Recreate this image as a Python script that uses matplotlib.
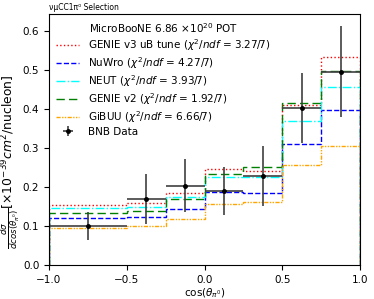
import numpy as np
import matplotlib
matplotlib.use("Agg")
import matplotlib.pyplot as plt

# bin edges in cos(theta_pi0)
bin_edges = [-1.0, -0.5, -0.25, 0.0, 0.25, 0.5, 0.75, 1.0]

# dati BNB
data_vals = [0.100, 0.169, 0.203, 0.190, 0.228, 0.403, 0.495]
data_errs = [0.035, 0.065, 0.068, 0.062, 0.076, 0.090, 0.117]

# predizioni dei generatori
genie_v3 = [0.154, 0.159, 0.185, 0.246, 0.241, 0.410, 0.533]
nuwro = [0.120, 0.123, 0.144, 0.187, 0.185, 0.310, 0.397]
neut = [0.146, 0.149, 0.174, 0.226, 0.226, 0.369, 0.456]
genie_v2 = [0.133, 0.138, 0.169, 0.233, 0.251, 0.415, 0.497]
gibuu = [0.095, 0.100, 0.118, 0.157, 0.160, 0.256, 0.305]

labels = [r"GENIE v3 uB tune ($\chi^2/ndf$ = 3.27/7)",
          r"NuWro ($\chi^2/ndf$ = 4.27/7)",
          r"NEUT ($\chi^2/ndf$ = 3.93/7)",
          r"GENIE v2 ($\chi^2/ndf$ = 1.92/7)",
          r"GiBUU ($\chi^2/ndf$ = 6.66/7)"]

fs = 7.5
fig = plt.figure(figsize=(3.74, 2.99), dpi=100)
ax = fig.add_axes([0.131, 0.114, 0.832, 0.839])

edges = np.array(bin_edges)
centers = 0.5 * (edges[1:] + edges[:-1])
half = 0.5 * (edges[1:] - edges[:-1])

ax.stairs(genie_v3, edges, color="red", linestyle=":", lw=1.0, label=labels[0])
ax.stairs(nuwro, edges, color="blue", linestyle="--", lw=1.0, label=labels[1])
ax.stairs(neut, edges, color="cyan", linestyle="-.", lw=1.0, label=labels[2])
ax.stairs(genie_v2, edges, color="green", linestyle=(0, (6, 3)), lw=1.0, label=labels[3])
ax.stairs(gibuu, edges, color="orange", linestyle=(0, (3, 1, 1, 1, 1, 1)), lw=1.0, label=labels[4])

ax.errorbar(centers, data_vals, xerr=half, yerr=data_errs, fmt="k.", ms=5,
            ecolor="0.25", elinewidth=1.2, label="BNB Data")

ax.set_xlim(-1.0, 1.0)
ax.set_ylim(0, 0.643)
ax.set_xticks([-1.0, -0.5, 0.0, 0.5, 1.0])
ax.tick_params(labelsize=fs)

ax.set_xlabel(r"cos($\theta_{\pi^0}$)", fontsize=fs, labelpad=1)
ax.set_ylabel(r"$\frac{d\sigma}{dcos(\theta_{\pi^0})}$[$\times 10^{-39} cm^2$/nucleon]",
              fontsize=8.9)
ax.yaxis.set_label_coords(-0.087, 0.41)
ax.set_title("νμCC1π⁰ Selection", loc="left", fontsize=5.5, pad=3)

leg = ax.legend(loc="upper left", fontsize=fs, frameon=False,
                title=r"MicroBooNE 6.86 $\times 10^{20}$ POT", title_fontsize=fs,
                borderaxespad=0.3, handlelength=2.2, labelspacing=0.2)

fig.savefig("out.png", dpi=100)
